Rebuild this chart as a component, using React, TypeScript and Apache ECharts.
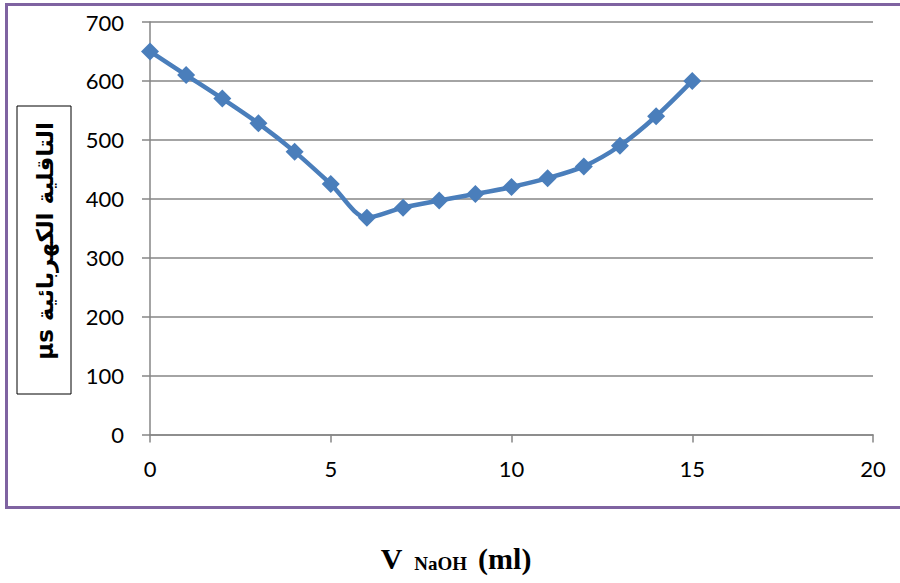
import React, { useEffect, useRef } from "react";
import * as echarts from "echarts";

const xValues = [0, 1, 2, 3, 4, 5, 6, 7, 8, 9, 10, 11, 12, 13, 14, 15];
const conductivity = [650, 610, 570, 528, 480, 425, 368, 385, 397, 408, 420, 435, 455, 490, 540, 600];
const yAxisTitle = "µs التاقلية الكهربائية";
const xTitleMain = "V";
const xTitleSub = "NaOH";
const xTitleUnit = "(ml)";

export default function App() {
  const ref = useRef<HTMLDivElement>(null);
  useEffect(() => {
    if (!ref.current) return;
    const chart = echarts.init(ref.current, null, { renderer: "svg" });
    const gray = "#868686";
    chart.setOption({
      animation: false,
      backgroundColor: "#ffffff",
      grid: { left: 150, right: 27, top: 22, bottom: 148.5, containLabel: false },
      xAxis: {
        type: "value",
        min: 0,
        max: 20,
        interval: 5,
        axisLine: { show: true, lineStyle: { color: gray, width: 1.5 } },
        axisTick: { show: true, length: 8, lineStyle: { color: gray, width: 1.5 } },
        splitLine: { show: false },
        axisLabel: { color: "#000", fontSize: 22, fontFamily: "Lato", margin: 23 },
      },
      yAxis: {
        type: "value",
        min: 0,
        max: 700,
        interval: 100,
        axisLine: { show: true, lineStyle: { color: gray, width: 1.5 } },
        axisTick: { show: true, length: 8, lineStyle: { color: gray, width: 1.5 } },
        splitLine: { show: true, lineStyle: { color: gray, width: 1.5 } },
        axisLabel: { color: "#000", fontSize: 22, fontFamily: "Lato", margin: 26 },
      },
      series: [
        {
          type: "line",
          data: xValues.map((x, i) => [x, conductivity[i]]),
          smooth: 0.3,
          symbol: "diamond",
          symbolSize: 18,
          lineStyle: { color: "#4a7ebb", width: 4.5 },
          itemStyle: { color: "#4a7ebb" },
        },
      ],
      graphic: [
        {
          type: "rect",
          z: 100,
          shape: { x: 6.5, y: 4.5, width: 1000, height: 503 },
          style: { fill: "none", stroke: "#7f63a1", lineWidth: 3 },
        },
        {
          type: "rect",
          z: 100,
          shape: { x: 17, y: 106, width: 54, height: 288 },
          style: { fill: "#fff", stroke: "#000", lineWidth: 1 },
        },
        {
          type: "text",
          z: 101,
          x: 45,
          y: 241,
          rotation: Math.PI / 2,
          style: {
            text: yAxisTitle,
            fill: "#000",
            font: "bold 23px 'DejaVu Sans', Arial, sans-serif",
            align: "center",
            verticalAlign: "middle",
          },
        },
        {
          type: "text",
          z: 101,
          x: 456,
          y: 558,
          style: {
            text: `{a|${xTitleMain}}{b|${xTitleSub}}{a|${xTitleUnit}}`,
            align: "center",
            verticalAlign: "middle",
            rich: {
              a: {
                fontFamily: "'Liberation Serif', serif",
                fontWeight: "bold",
                fontSize: 30,
                lineHeight: 30,
                verticalAlign: "bottom",
                fill: "#000",
              },
              b: {
                fontFamily: "'Liberation Serif', serif",
                fontWeight: "bold",
                fontSize: 19,
                lineHeight: 19,
                verticalAlign: "bottom",
                padding: [0, 11, 0, 12],
                fill: "#000",
              },
            },
          },
        },
      ],
    });
    return () => chart.dispose();
  }, []);
  return (
    <div
      ref={ref}
      style={{ position: "fixed", left: 0, top: 0, width: 900, height: 583 }}
    />
  );
}
